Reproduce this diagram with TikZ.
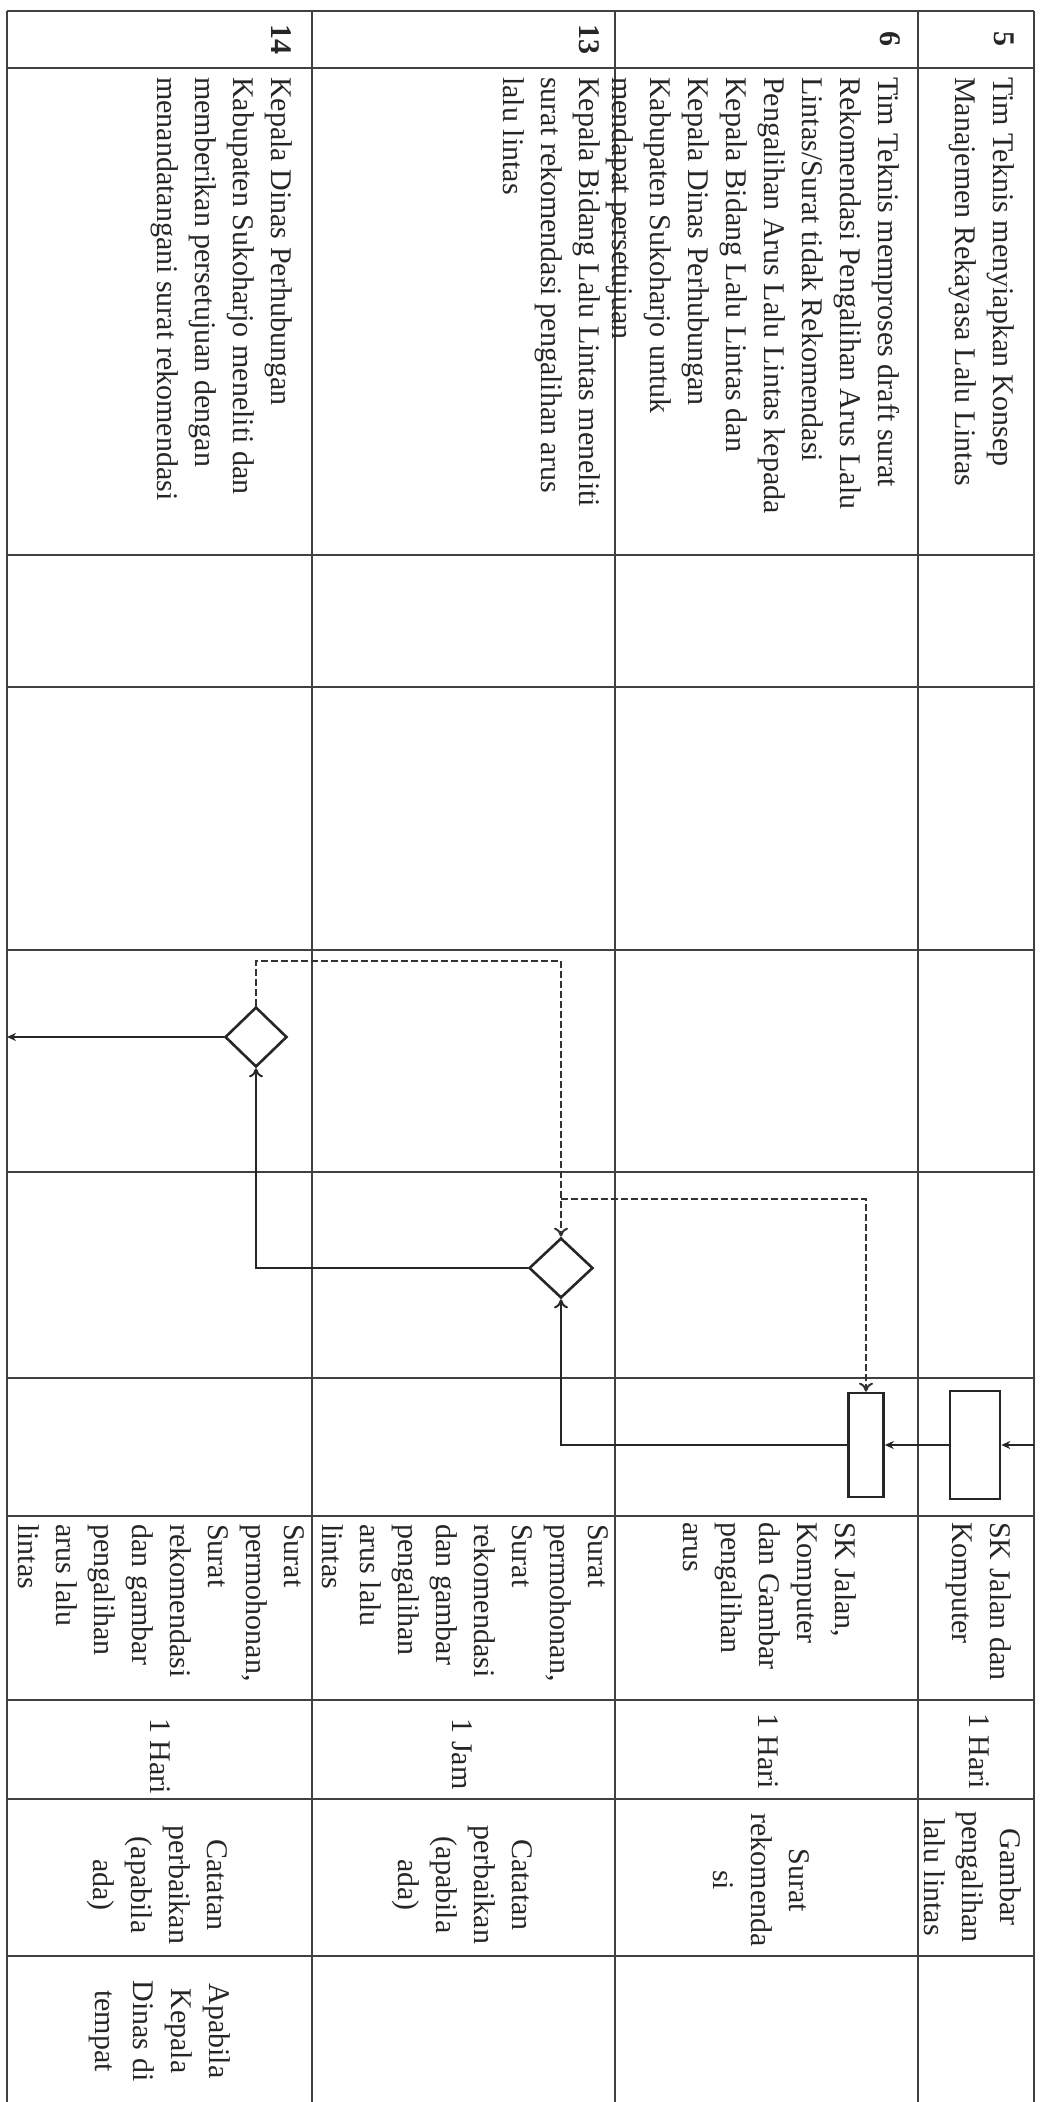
\documentclass[tikz,border=0pt]{standalone}
\usepackage{fontspec}
\setmainfont{Liberation Serif}
\usetikzlibrary{arrows.meta,shapes.geometric}
\begin{document}
\begin{tikzpicture}[x=1pt,y=-1pt,
  grid/.style={line width=2pt, draw=black!75},
  txt/.style={rotate=-90, inner sep=0pt, font=\fontsize{30}{38}\selectfont, text=black!85},
  numtxt/.style={rotate=-90, inner sep=0pt, font=\bfseries\fontsize{30}{38}\selectfont, text=black!85},
  shapebox/.style={draw=black!85, line width=2.6pt, inner sep=0pt},
  flow/.style={draw=black!85, line width=2.4pt},
  dashflow/.style={draw=black!80, line width=2.6pt, dash pattern=on 7pt off 3pt},
  tipV/.style={-{To[length=9pt,width=14pt,line width=2pt]}},
  tipS/.style={-{Stealth[length=9pt,width=8pt]}}]
\useasboundingbox (0,0) rectangle (1050,2102);
\fill[white] (0,0) rectangle (1050,2102);
% table grid
\foreach \yy in {11,68,555,687,950,1172,1378,1516,1700,1799,1956}
  \draw[grid] (7,\yy) -- (1034,\yy);
\foreach \xx in {7,312,615,918,1034}
  \draw[grid] (\xx,11) -- (\xx,2102);
% step numbers
\node[numtxt] (n5) at (1004,39) {5};
\node[numtxt] (n6) at (890,39) {6};
\node[numtxt] (n13) at (589,39) {13};
\node[numtxt] (n14) at (281,39) {14};
% activities
\node[txt, anchor=north west, align=left] (a5) at (1015,77) {Tim Teknis menyiapkan Konsep\\Manajemen Rekayasa Lalu Lintas};
\node[txt, anchor=north west, align=left] (a6) at (900,77) {Tim Teknis memproses draft surat\\Rekomendasi Pengalihan Arus Lalu\\Lintas/Surat tidak Rekomendasi\\Pengalihan Arus Lalu Lintas kepada\\Kepala Bidang Lalu Lintas dan\\Kepala Dinas Perhubungan\\Kabupaten Sukoharjo untuk\\mendapat persetujuan};
\node[txt, anchor=north west, align=left] (a13) at (601,77) {Kepala Bidang Lalu Lintas meneliti\\surat rekomendasi pengalihan arus\\lalu lintas};
\node[txt, anchor=north west, align=left] (a14) at (293,77) {Kepala Dinas Perhubungan\\Kabupaten Sukoharjo meneliti dan\\memberikan persetujuan dengan\\menandatangani surat rekomendasi};
% requirements
\node[txt, anchor=west, align=left] (q5) at (979,1522) {SK Jalan dan\\Komputer};
\node[txt, anchor=west, align=left] (q6) at (770,1522) {SK Jalan,\\Komputer\\dan Gambar\\pengalihan\\arus};
\node[txt, anchor=west, align=left] (q13) at (465,1524) {Surat\\permohonan,\\Surat\\rekomendasi\\dan gambar\\pengalihan\\arus lalu\\lintas};
\node[txt, anchor=west, align=left] (q14) at (161,1524) {Surat\\permohonan,\\Surat\\rekomendasi\\dan gambar\\pengalihan\\arus lalu\\lintas};
% time
\node[txt] (t5) at (979,1751) {1 Hari};
\node[txt] (t6) at (768,1751) {1 Hari};
\node[txt] (t13) at (462,1754) {1 Jam};
\node[txt] (t14) at (160,1756) {1 Hari};
% output
\node[txt, align=center] (o5) at (973,1877) {Gambar\\pengalihan\\lalu lintas};
\node[txt, align=center] (o6) at (761,1880) {Surat\\rekomenda\\si};
\node[txt, align=center] (o13) at (462,1885) {Catatan\\perbaikan\\(apabila\\ada)};
\node[txt, align=center] (o14) at (157,1885) {Catatan\\perbaikan\\(apabila\\ada)};
% notes
\node[txt, align=center] (m14) at (160,2031) {Apabila\\Kepala\\Dinas di\\tempat};
% flow shapes
\node[shapebox, minimum width=50pt, minimum height=108pt] (r5) at (975,1445) {};
\node[shapebox, minimum width=35pt, minimum height=104pt] (r6) at (866,1445) {};
\node[shapebox, diamond, minimum width=64pt, minimum height=60pt] (d2) at (561,1268) {};
\node[shapebox, diamond, minimum width=62pt, minimum height=60pt] (d1) at (256,1037) {};
% connectors
\coordinate (inR) at (1034,1445);
\coordinate (outL) at (7,1037);
\coordinate (k1) at (256,961);
\coordinate (k2) at (561,1199);
\draw[flow, tipS] (inR) -- (r5.east);
\draw[flow, tipS] (r5.west) -- (r6.east);
\draw[flow, tipV] (r6.west) -| (d2.south);
\draw[flow, tipV] (d2.west) -| (d1.south);
\draw[flow, tipS] (d1.west) -- (outL);
\draw[dashflow, tipV] (d1.north) -- (k1) -| (d2.north);
\draw[dashflow, tipV] (k2) -| (r6.north);
\end{tikzpicture}
\end{document}
